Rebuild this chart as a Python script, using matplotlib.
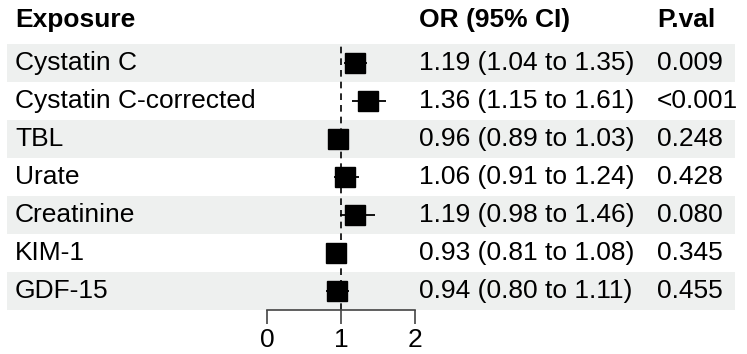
import matplotlib.pyplot as plt

exposures = ["Cystatin C", "Cystatin C-corrected", "TBL", "Urate",
             "Creatinine", "KIM-1", "GDF-15"]
odds = [1.19, 1.36, 0.96, 1.06, 1.19, 0.93, 0.94]
ci_low = [1.04, 1.15, 0.89, 0.91, 0.98, 0.81, 0.80]
ci_high = [1.35, 1.61, 1.03, 1.24, 1.46, 1.08, 1.11]
pvals = ["0.009", "<0.001", "0.248", "0.428", "0.080", "0.345", "0.455"]
xticks = [0, 1, 2]

plt.rcParams['font.family'] = ['Liberation Sans', 'DejaVu Sans']
W, H = 747, 354
top, row_h = 44, 38
n = len(exposures)

fig = plt.figure(figsize=(W / 100, H / 100), dpi=100)

# background / text layer, y in row units
bg = fig.add_axes([0, 0, 1, 1])
bg.set_xlim(0, W)
bg.set_ylim((H - top) / row_h, -top / row_h)
bg.axis('off')

fs = 19
for i in range(n):
    if i % 2 == 0:
        bg.fill_between([7, 735], i, i + 1, color='#eef0ef', lw=0, zorder=0)
    bg.text(15, i + 0.5, exposures[i], fontsize=fs, va='center')
    bg.text(419, i + 0.5, f"{odds[i]:.2f} ({ci_low[i]:.2f} to {ci_high[i]:.2f})",
            fontsize=fs, va='center')
    bg.text(657, i + 0.5, pvals[i], fontsize=fs, va='center')

hy = -0.62
bg.text(15, hy, "Exposure", fontsize=fs, fontweight='bold', va='center')
bg.text(419, hy, "OR (95% CI)", fontsize=fs, fontweight='bold', va='center')
bg.text(657, hy, "P.val", fontsize=fs, fontweight='bold', va='center')

# forest panel
x0, x1 = 267, 415
ax = fig.add_axes([x0 / W, (H - top - n * row_h) / H, (x1 - x0) / W, n * row_h / H])
ax.patch.set_alpha(0)
ax.set_xlim(0, 2)
ax.set_ylim(n, 0)
for s in ['top', 'left', 'right']:
    ax.spines[s].set_visible(False)
ax.spines['bottom'].set_color('#444444')
ax.spines['bottom'].set_linewidth(1.2)
ax.set_yticks([])
ax.set_xticks(xticks)
ax.tick_params(axis='x', length=10, width=1.2, color='#444444',
               labelsize=fs, pad=3)

ax.axvline(1, color='black', ls=(0, (4, 3)), lw=1.2, zorder=1)
ys = [i + 0.5 for i in range(n)]
ax.hlines(ys, ci_low, ci_high, color='black', lw=1.3, zorder=2)
ax.plot(odds, ys, 's', color='black', markersize=13.8, zorder=3, clip_on=False)

fig.savefig('out.png', dpi=100)
